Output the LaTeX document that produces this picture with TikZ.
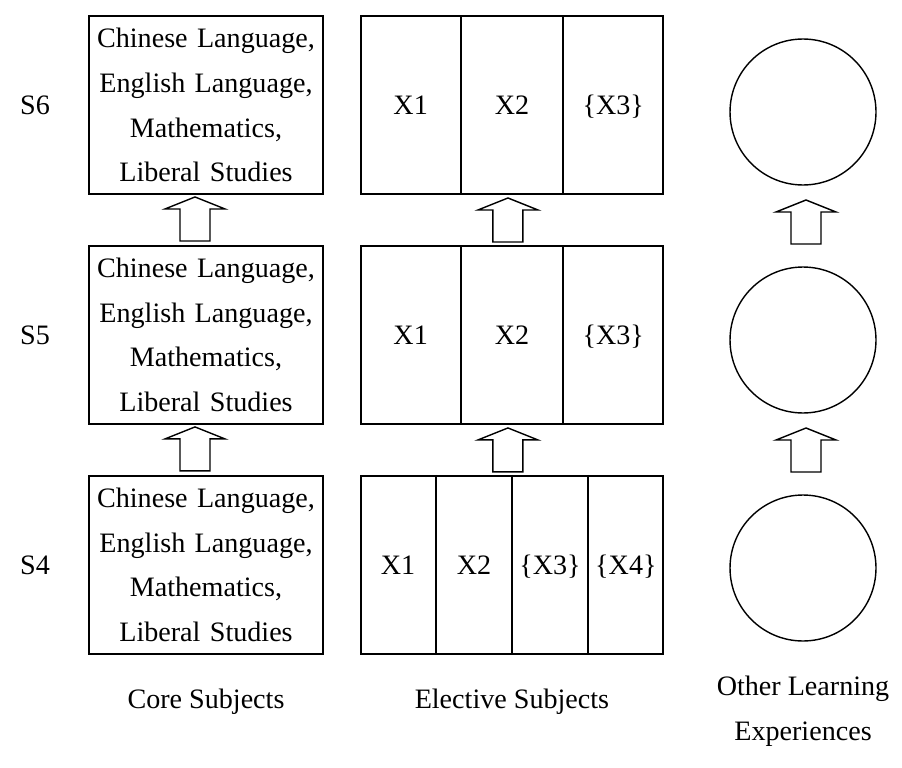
\documentclass[tikz,border=0pt]{standalone}
\usepackage{fontspec}
\setmainfont{Liberation Serif}
\usetikzlibrary{positioning,calc}

\tikzset{
  corebox/.style={draw, line width=1.1pt, rectangle, text width=4.68cm, minimum height=3.56cm, inner sep=0pt, align=center},
  electbox/.style={draw, line width=1.1pt, rectangle, minimum width=6.04cm, minimum height=3.56cm, inner sep=0pt},
  olebox/.style={draw, line width=0.8pt, circle, minimum size=2.92cm, inner sep=0pt},
  colline/.style={line width=1.1pt},
  colitem/.style={text height=15pt, text depth=4pt, inner sep=0pt},
  uparrow/.pic={\draw[line width=0.8pt] (-15,22) -- (-15,-10) -- (-30,-10) -- (0,-22) -- (30,-10) -- (15,-10) -- (15,22) -- cycle;}
}

\begin{document}
\begin{tikzpicture}[x=0.02cm, y=-0.02cm, node distance=4.6cm, font=\fontsize{16}{25.5}\selectfont]
    \useasboundingbox (0,0) rectangle (902,767);

    % core subjects
    \node (core6) [corebox] at (206,105) {Chinese Language,\\English Language,\\Mathematics,\\Liberal Studies};
    \node (core5) [corebox, below of=core6] {Chinese Language,\\English Language,\\Mathematics,\\Liberal Studies};
    \node (core4) [corebox, below of=core5] {Chinese Language,\\English Language,\\Mathematics,\\Liberal Studies};

    % elective subjects
    \node (elec6) [electbox, right of=core6, node distance=6.12cm] {};
    \node (elec5) [electbox, right of=core5, node distance=6.12cm] {};
    \node (elec4) [electbox, right of=core4, node distance=6.12cm] {};

    \foreach \r in {6,5} {
        \foreach \f in {1,2}
            \draw[colline] ($(elec\r.north west)!\f/3!(elec\r.north east)$) -- ($(elec\r.south west)!\f/3!(elec\r.south east)$);
        \foreach \t [count=\i] in {X1,X2,\{X3\}}
            \node (x\i-\r) [colitem] at ($(elec\r.west)!{(2*\i-1)/6}!(elec\r.east)$) {\t};
    }
    \foreach \f in {1,2,3}
        \draw[colline] ($(elec4.north west)!\f/4!(elec4.north east)$) -- ($(elec4.south west)!\f/4!(elec4.south east)$);
    \foreach \t [count=\i] in {X1,X2,\{X3\},\{X4\}}
        \node (x\i-4) [colitem] at ($(elec4.west)!{(2*\i-1)/8}!(elec4.east)$) {\t};

    % other learning experiences
    \node (ole6) [olebox] at (803,112) {};
    \node (ole5) [olebox] at (803,340) {};
    \node (ole4) [olebox] at (803,568) {};

    % year labels
    \node (s6) [left of=core6, node distance=3.42cm] {S6};
    \node (s5) [left of=core5, node distance=3.42cm] {S5};
    \node (s4) [left of=core4, node distance=3.42cm] {S4};

    % progression arrows
    \pic at ($(core6.south)!0.5!(core5.north)+(-11,-1)$) {uparrow};
    \pic at ($(core5.south)!0.5!(core4.north)+(-11,-1)$) {uparrow};
    \pic at ($(elec6.south)!0.5!(elec5.north)+(-4,0)$) {uparrow};
    \pic at ($(elec5.south)!0.5!(elec4.north)+(-4,0)$) {uparrow};
    \pic at ($(ole6.south)!0.5!(ole5.north)+(3,-4)$) {uparrow};
    \pic at ($(ole5.south)!0.5!(ole4.north)+(3,-4)$) {uparrow};

    % column titles
    \node (coretitle) [below of=core4, node distance=2.74cm] {Core Subjects};
    \node (electitle) [below of=elec4, node distance=2.74cm] {Elective Subjects};
    \node (oletitle) [align=center] at (803,711) {Other Learning\\Experiences};
\end{tikzpicture}
\end{document}
